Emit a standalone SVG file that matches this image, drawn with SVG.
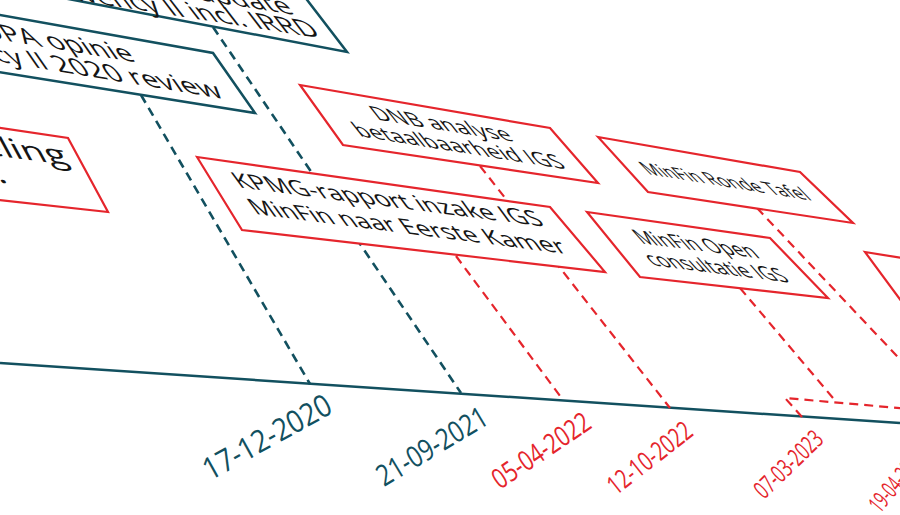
<svg xmlns="http://www.w3.org/2000/svg" width="900" height="515" viewBox="0 0 900 515">
<style>
.bt{fill:#fff;stroke:#12505f;stroke-width:2.5}
.br{fill:#fff;stroke:#e5252c;stroke-width:2.2}
.lbl{font-family:"Open Sans","Noto Sans",sans-serif;fill:#151515;text-anchor:middle}
.end{text-anchor:end}
.dt{stroke:#12505f;stroke-width:2.6;stroke-dasharray:9 6;fill:none}
.dr{stroke:#e5252c;stroke-width:2.2;stroke-dasharray:9 6;fill:none}
.date{font-family:"Open Sans","Noto Sans",sans-serif}
.dteal{fill:#12505f}
.dred{fill:#e5252c}
</style>
<rect x="0" y="0" width="900" height="515" fill="#fff"/>
<g id="timeline">
<line x1="0" y1="363" x2="900" y2="423" stroke="#12505f" stroke-width="2.5"/>
</g>
<g id="connectors">
<line class="dt" x1="141" y1="95" x2="310" y2="384"/>
<line class="dt" x1="213" y1="27" x2="461" y2="393"/>
<line class="dr" x1="456" y1="256" x2="563" y2="400"/>
<line class="dr" x1="480" y1="166" x2="670" y2="408"/>
<line class="dr" x1="740" y1="288" x2="833" y2="398"/>
<line class="dr" x1="757" y1="208" x2="912" y2="372"/>
<polyline class="dr" points="802,417 785,398 910,409"/>
</g>
<g id="box-a">
<polygon class="bt" points="-100,-84 301,-8 347,52 -100,-33"/>
<g transform="matrix(1.22 0.19 0.77 1 301 -8)">
<text class="lbl" font-size="24" x="-127" y="27">EC-voorstel update</text>
<text class="lbl" font-size="24" x="-127" y="49">Solvency II incl. IRRD</text>
</g>
</g>
<g id="box-b">
<polygon class="bt" points="-150,-11.6 213,53 255,113 -150,48.2"/>
<g transform="matrix(1.24 0.207 0.7 1 213 53)">
<text class="lbl" font-size="24" x="-147" y="25">EIOPA opinie</text>
<text class="lbl" font-size="24" x="-147" y="50">Solvency II 2020 review</text>
</g>
</g>
<g id="box-c">
<polygon class="br" points="-100,113 68,138 108,212 -100,189"/>
<g transform="matrix(1.4 0.18 0.54 1 68 138)">
<text class="lbl end" font-size="28" x="-9" y="29">regeling</text>
<text class="lbl end" font-size="28" x="-64" y="57">IGS.</text>
</g>
</g>
<g id="box-d">
<polygon class="br" points="300,85 550,128 598,183 343,145"/>
<g transform="matrix(1.169 0.1875 0.791 1 298.8 86.3)">
<text class="lbl" font-size="20" x="110" y="24">DNB analyse</text>
<text class="lbl" font-size="20" x="110" y="46">betaalbaarheid IGS</text>
</g>
</g>
<g id="box-e">
<polygon class="br" points="197,157 550,207 605,272 242,230"/>
<g transform="matrix(1.185 0.152 0.725 1 194.6 159.05)">
<text class="lbl" font-size="22" x="152" y="25">KPMG-rapport inzake IGS</text>
<text class="lbl" font-size="22" x="152" y="52">MinFin naar Eerste Kamer</text>
</g>
</g>
<g id="box-f">
<polygon class="br" points="598,137 800,172 853,223 648,192"/>
<g transform="matrix(1.023 0.166 0.972 1 597.2 138)">
<text class="lbl" font-size="18" x="99.5" y="33">MinFin Ronde Tafel</text>
</g>
</g>
<g id="box-g">
<polygon class="br" points="587,212 770,238 828,298 640,277"/>
<g transform="matrix(1.0 0.127 0.888 1 585.75 213.2)">
<text class="lbl" font-size="20" x="92.75" y="26">MinFin Open</text>
<text class="lbl" font-size="20" x="92.75" y="49">consultatie IGS</text>
</g>
</g>
<g id="box-h">
<polygon class="br" points="865,252 1100,290 1150,350 910,313"/>
</g>
<g id="dates">
<text class="date dteal" font-size="31" transform="translate(210 481) rotate(-29) scale(0.88 1)">17-12-2020</text>
<text class="date dteal" font-size="29.4" transform="translate(384 487) rotate(-31) scale(0.81 1)">21-09-2021</text>
<text class="date dred" font-size="28" transform="translate(500 490) rotate(-34) scale(0.77 1)">05-04-2022</text>
<text class="date dred" font-size="26.6" transform="translate(616 496) rotate(-38) scale(0.72 1)">12-10-2022</text>
<text class="date dred" font-size="25" transform="translate(764 500) rotate(-44) scale(0.65 1)">07-03-2023</text>
<text class="date dred" font-size="24" transform="translate(880 514) rotate(-50) scale(0.58 1)">19-04-2023</text>
</g>
</svg>
